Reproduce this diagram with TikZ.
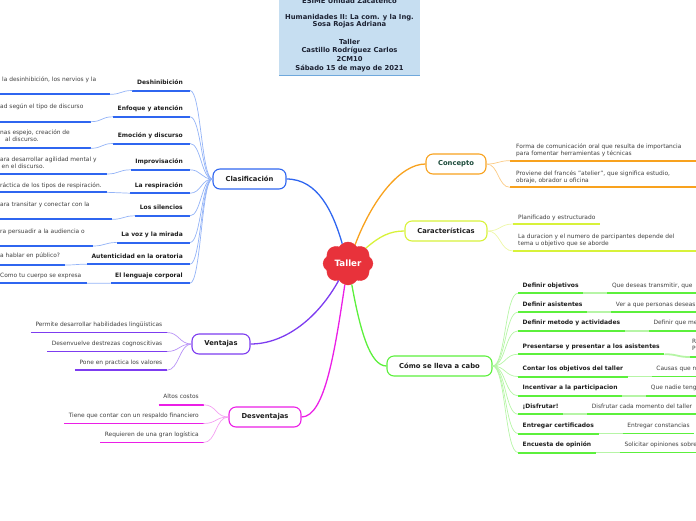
\documentclass[tikz,border=0pt]{standalone}
\usepackage{fontspec}
\setmainfont{DejaVu Sans}
\usetikzlibrary{shapes.symbols}
\definecolor{cblue}{HTML}{2F66F0}
\definecolor{lblue}{HTML}{93B3F7}
\definecolor{cpurp}{HTML}{7D3CF0}
\definecolor{lpurp}{HTML}{B893F6}
\definecolor{cmag}{HTML}{EB1FE6}
\definecolor{lmag}{HTML}{F4A0F2}
\definecolor{corg}{HTML}{F8A21E}
\definecolor{lorg}{HTML}{FBCB85}
\definecolor{cyel}{HTML}{D8F23A}
\definecolor{lyel}{HTML}{EDF7A6}
\definecolor{cgrn}{HTML}{5CF03C}
\definecolor{lgrn}{HTML}{B6F5A6}
\definecolor{hdr}{HTML}{C6DEF1}
\definecolor{hdrline}{HTML}{6FA8DC}
\definecolor{hdrink}{HTML}{1C2233}
\definecolor{tred}{HTML}{E8323B}
\definecolor{ink}{HTML}{1E1E1E}
\definecolor{leafink}{HTML}{404040}
\definecolor{concink}{HTML}{1C4B3B}
\begin{document}
\begin{tikzpicture}[x=1pt,y=-1pt,
  mainbox/.style={draw, rounded corners=7pt, line width=1.1pt, fill=white, minimum height=20pt, inner sep=0pt, font=\bfseries\fontsize{6.8}{8}\selectfont, text=ink},
  lbl/.style={inner xsep=4.5pt, inner ysep=4.45pt, font=\bfseries\fontsize{6}{7}\selectfont, text height=4.4pt, text depth=1.3pt, text=ink},
  leafn/.style={inner xsep=4.5pt, inner ysep=4.45pt, font=\fontsize{5.9}{7.3}\selectfont, text height=4.4pt, text depth=1.3pt, text=leafink},
  leaf1/.style={inner sep=0pt, font=\fontsize{5.9}{7.3}\selectfont, text height=4.4pt, text depth=1.3pt, text=leafink, anchor=west},
  leafm/.style={inner sep=0pt, font=\fontsize{5.9}{7.3}\selectfont, text=leafink, align=left, anchor=north west},
  hline/.style={inner sep=0pt, font=\bfseries\fontsize{6.8}{8}\selectfont, text height=4.9pt, text depth=1.4pt, text=hdrink},
  conn/.style={line width=1.3pt},
  lconn/.style={line width=0.7pt},
  uline/.style={line width=2pt},
  lline/.style={line width=1.8pt}
]
\useasboundingbox (0,0) rectangle (696,520);
\clip (0,0) rectangle (696,520);

% header
\fill[hdr] (279,-5) rectangle (420,75.5);
\draw[hdrline, line width=0.8pt] (279,75.5) -- (420,75.5);
\node[hline] (h1) at (349.5,1.7) {ESIME Unidad Zacatenco};
\node[hline] (h2) at (349.5,17.3) {Humanidades II: La com. y la Ing.};
\node[hline] (h3) at (349.5,24.7) {Sosa Rojas Adriana};
\node[hline] (h4) at (349.5,42.3) {Taller};
\node[hline] (h5) at (349.5,51) {Castillo Rodríguez Carlos};
\node[hline] (h6) at (349.5,59.7) {2CM10};
\node[hline] (h7) at (349.5,69) {Sábado 15 de mayo de 2021};

% central topic
\node[cloud, cloud puffs=8, cloud puff arc=120, aspect=1.15, fill=tred, draw=tred, minimum width=50pt, minimum height=43pt, inner sep=0pt, text=white, font=\bfseries\fontsize{8.7}{10}\selectfont] (taller) at (348,263.5) {Taller};

% main topics
\node[mainbox, draw=cblue, minimum width=73pt] (clas) at (249.5,179) {Clasificación};
\node[mainbox, draw=corg, minimum width=60pt, text=concink] (conc) at (456,164) {Concepto};
\node[mainbox, draw=cyel, minimum width=82pt] (car) at (446,231) {Características};
\node[mainbox, draw=cgrn, minimum width=105pt] (como) at (439.5,366) {Cómo se lleva a cabo};
\node[mainbox, draw=cpurp, minimum width=58pt] (vent) at (221,344) {Ventajas};
\node[mainbox, draw=cmag, minimum width=72pt] (desv) at (265,417) {Desventajas};

\draw[conn, cblue] (taller) .. controls (333,212) and (318,179) .. (clas.east);
\draw[conn, corg] (taller) .. controls (372,200) and (400,164) .. (conc.west);
\draw[conn, cyel] (taller) .. controls (380,236) and (390,231) .. (car.west);
\draw[conn, cpurp] (taller) .. controls (318,318) and (285,344) .. (vent.east);
\draw[conn, cmag] (taller) .. controls (335,350) and (325,417) .. (desv.east);
\draw[conn, cgrn] (taller) .. controls (360,330) and (370,366) .. (como.west);

% Clasificacion children
\foreach \i/\t/\ty in {1/Deshinibición/83, 2/Enfoque y atención/109.3, 3/Emoción y discurso/136, 4/Improvisación/162.3, 5/La respiración/185.7, 6/Los silencios/208.3, 7/La voz y la mirada/235, 8/Autenticidad en la oratoria/256.7, 9/El lenguaje corporal/275.7}{
  \node[lbl, anchor=east] (c\i) at (187.5,\ty) {\t};
  \coordinate (ce\i) at ([xshift=2.5pt]c\i.south east);
  \draw[uline, cblue] (c\i.south west) -- (ce\i);
  \draw[lconn, lblue] (clas.west) .. controls +(-11,0) and +(11,0) .. (ce\i);
}
\foreach \i/\ly/\lr in {1/94.3/110, 2/121.7/90.7, 3/148.3/90.7, 4/174/107, 5/192.3/107, 6/219.3/112, 7/246/93, 8/265/65, 9/283.3/87}{
  \coordinate (la\i) at (-5,\ly);
  \coordinate (lb\i) at (\lr,\ly);
  \draw[lline, cblue] (la\i) -- (lb\i);
  \draw[lconn, lblue] (c\i.south west) .. controls +(-12,0) and +(12,0) .. (lb\i);
}
\node[leaf1] (f1) at (2,80) {la desinhibición, los nervios y la};
\node[leaf1] (f2) at (0,106.7) {ad según el tipo de discurso};
\node[leafm] (f3) at (0,129.3) {nas espejo, creación de\\\hspace*{5pt}al discurso.};
\node[leafm] (f4) at (0,157) {ara desarrollar agilidad mental y\\\hspace*{1.5pt}en el discurso.};
\node[leaf1] (f5) at (0,186) {ráctica de los tipos de respiración.};
\node[leaf1] (f6) at (0,205) {ara transitar y conectar con la};
\node[leaf1] (f7) at (0,231.7) {ra persuadir a la audiencia o};
\node[leaf1] (f8) at (0,255.7) {a hablar en público?};
\node[leaf1] (f9) at (0,275.7) {Como tu cuerpo se expresa};

% Ventajas
\foreach \i/\t/\ty in {1/Permite desarrollar habilidades lingüísticas/325, 2/Desenvuelve destrezas cognoscitivas/344, 3/Pone en practica los valores/362.7}{
  \node[leafn, anchor=east] (v\i) at (167,\ty) {\t};
  \draw[lline, cpurp] (v\i.south west) -- (v\i.south east);
  \draw[lconn, lpurp] (vent.west) .. controls +(-12,0) and +(12,0) .. (v\i.south east);
}

% Desventajas
\foreach \i/\t/\ty in {1/Altos costos/397.3, 2/Tiene que contar con un respaldo financiero/416, 3/Requieren de una gran logística/435}{
  \node[leafn, anchor=east] (d\i) at (203.5,\ty) {\t};
  \draw[lline, cmag] (d\i.south west) -- (d\i.south east);
  \draw[lconn, lmag] (desv.west) .. controls +(-13,0) and +(13,0) .. (d\i.south east);
}

% Concepto
\coordinate (co1) at (510,160.7);
\coordinate (co2) at (510,187.3);
\node[leafm] (g1) at (516,143.7) {Forma de comunicación oral que resulta de importancia\\para fomentar herramientas y técnicas};
\node[leafm] (g2) at (516,170.3) {Proviene del francés "atelier", que significa estudio,\\obraje, obrador u oficina};
\draw[lline, corg] (co1) -- ++(200,0);
\draw[lline, corg] (co2) -- ++(200,0);
\draw[lconn, lorg] (conc.east) .. controls +(12,0) and +(-12,0) .. (co1);
\draw[lconn, lorg] (conc.east) .. controls +(12,0) and +(-12,0) .. (co2);

% Caracteristicas
\coordinate (ch1) at (513,224);
\coordinate (ch1b) at (600,224);
\coordinate (ch2) at (513,251);
\node[leaf1] (k01) at (518,217.7) {Planificado y estructurado};
\node[leafm] (k02) at (518,233.7) {La duracion y el numero de parcipantes depende del\\tema u objetivo que se aborde};
\draw[lline, cyel] (ch1) -- (ch1b);
\draw[lline, cyel] (ch2) -- ++(200,0);
\draw[lconn, lyel] (car.east) .. controls +(13,0) and +(-13,0) .. (ch1);
\draw[lconn, lyel] (car.east) .. controls +(13,0) and +(-13,0) .. (ch2);

% Como se lleva a cabo
\foreach \i/\t/\ty in {1/Definir objetivos/285.7, 2/Definir asistentes/304.7, 3/Definir metodo y actividades/323.3, 4/Presentarse y presentar a los asistentes/346.7, 5/Contar los objetivos del taller/369, 6/Incentivar a la participacion/388.3, 7/¡Disfrutar!/406.7, 8/Entregar certificados/426, 9/Encuesta de opinión/445}{
  \node[lbl, anchor=west] (k\i) at (518,\ty) {\t};
  \draw[uline, cgrn] (k\i.south west) -- (k\i.south east);
  \draw[lconn, lgrn] (como.east) .. controls +(13,0) and +(-13,0) .. (k\i.south west);
}
\node[leafn, anchor=south west] (l1) at ([xshift=24pt]k1.south east) {Que deseas transmitir, que};
\node[leafn, anchor=south west] (l2) at ([xshift=24pt]k2.south east) {Ver a que personas deseas};
\node[leafn, anchor=south west] (l3) at ([xshift=24pt]k3.south east) {Definir que me};
\node[leafn, anchor=south west] (l5) at ([xshift=24pt]k5.south east) {Causas que n};
\node[leafn, anchor=south west] (l6) at ([xshift=24pt]k6.south east) {Que nadie teng};
\node[leafn, anchor=south west] (l7) at ([xshift=24pt]k7.south east) {Disfrutar cada momento del taller};
\node[leafn, anchor=south west] (l8) at ([xshift=24pt]k8.south east) {Entregar constancias};
\node[leafn, anchor=south west] (l9) at ([xshift=24pt]k9.south east) {Solicitar opiniones sobre};
\foreach \i in {1,2,3,5,6,7,9}{
  \draw[lline, lgrn] (k\i.south east) -- (l\i.south west);
  \draw[lline, cgrn] (l\i.south west) -- ++(120,0);
}
\draw[lline, lgrn] (k8.south east) -- (l8.south west);
\draw[lline, cgrn] (l8.south west) -- (l8.south east);
% Presentarse leaf
\coordinate (p4) at (690,357);
\node[leafm] (l4) at (692,338.7) {R\\P};
\draw[lline, lgrn] (k4.south east) .. controls +(13,0) and +(-13,0) .. (p4);
\draw[lline, cgrn] (p4) -- ++(20,0);
\end{tikzpicture}
\end{document}
